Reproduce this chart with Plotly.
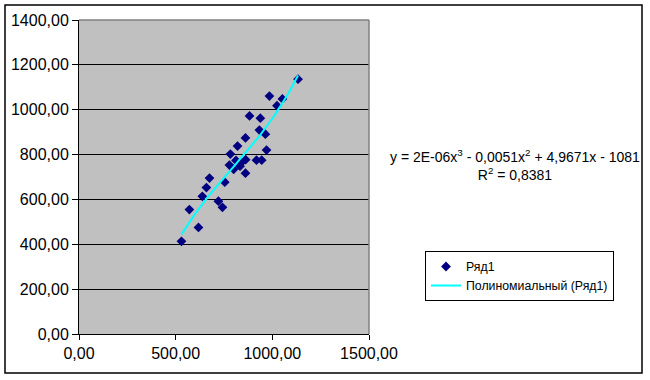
import numpy as np
import plotly.graph_objects as go

# Data
x_vals = [530, 618, 571, 638, 659, 675, 721, 742, 754, 778, 783, 800, 812, 820, 833,
          840, 862, 861, 861, 882, 918, 945, 933, 938, 964, 970, 985, 1024, 1052, 1133]
y_vals = [413, 475, 555, 614, 653, 695, 592, 565, 677, 753, 802, 734, 774, 838, 748,
          765, 777, 717, 874, 972, 775, 775, 909, 962, 891, 820, 1061, 1018, 1048, 1136]
series_name = "Ряд1"
trend_name = "Полиномиальный (Ряд1)"
equation_text = "y = 2E-06x<sup>3</sup> - 0,0051x<sup>2</sup> + 4,9671x - 1081<br>R<sup>2</sup> = 0,8381"
x_ticks = [0, 500, 1000, 1500]
y_ticks = [0, 200, 400, 600, 800, 1000, 1200, 1400]

# Polynomial (order 3) trendline fitted to the series
coef = np.polyfit(x_vals, y_vals, 3)
tx = np.linspace(min(x_vals), max(x_vals), 120)
ty = np.polyval(coef, tx)

FONT = "Liberation Sans, Arial, sans-serif"

fig = go.Figure()
fig.add_trace(go.Scatter(
    x=x_vals, y=y_vals, mode="markers", name=series_name,
    marker=dict(symbol="diamond", size=7.5, color="#000080", line=dict(width=0)),
))
fig.add_trace(go.Scatter(
    x=tx, y=ty, mode="lines", name=trend_name,
    line=dict(color="#00FFFF", width=2),
))

L, R, T, B = 79, 281, 20, 46
W, H = 650, 380
pw, ph = W - L - R, H - T - B

def px_x(p):
    return (p - L) / pw

def px_y(p):
    return (H - B - p) / ph

fig.update_layout(
    width=W, height=H,
    margin=dict(l=L, r=R, t=T, b=B, pad=0),
    paper_bgcolor="white",
    plot_bgcolor="#C0C0C0",
    separators=", ",
    font=dict(family=FONT, size=16, color="black"),
    showlegend=True,
    legend=dict(
        x=px_x(425), y=px_y(251), xanchor="left", yanchor="top",
        bordercolor="black", borderwidth=1, bgcolor="white",
        font=dict(family=FONT, size=12.3, color="black"),
        tracegroupgap=0, itemwidth=30,
    ),
    xaxis=dict(
        range=[0, 1500], tickvals=x_ticks, tickformat=".2f",
        showgrid=False, zeroline=False,
        showline=True, linecolor="black", linewidth=1,
        ticks="outside", ticklen=5, tickcolor="black",
        tickfont=dict(family=FONT, size=16, color="black"),
    ),
    yaxis=dict(
        range=[0, 1400], tickvals=y_ticks, tickformat=".2f",
        showgrid=True, gridcolor="black", gridwidth=1, zeroline=False,
        showline=True, linecolor="black", linewidth=1,
        ticks="outside", ticklen=6, tickcolor="black",
        tickfont=dict(family=FONT, size=16, color="black"),
    ),
    shapes=[
        # grey top and right edges of the plot area
        dict(type="line", xref="paper", yref="paper", x0=0, x1=1, y0=1, y1=1,
             line=dict(color="#808080", width=1.5), layer="above"),
        dict(type="line", xref="paper", yref="paper", x0=1, x1=1, y0=0, y1=1,
             line=dict(color="#808080", width=1.5), layer="above"),
        # outer chart border
        dict(type="rect", xref="paper", yref="paper",
             x0=px_x(5), x1=px_x(642), y0=px_y(373), y1=px_y(5),
             line=dict(color="black", width=1.5), fillcolor="rgba(0,0,0,0)"),
    ],
    annotations=[
        dict(xref="paper", yref="paper", x=px_x(515), y=px_y(165),
             xanchor="center", yanchor="middle", align="center", showarrow=False,
             text=equation_text, font=dict(family=FONT, size=14, color="black")),
    ],
)

fig.write_html("out.html")
